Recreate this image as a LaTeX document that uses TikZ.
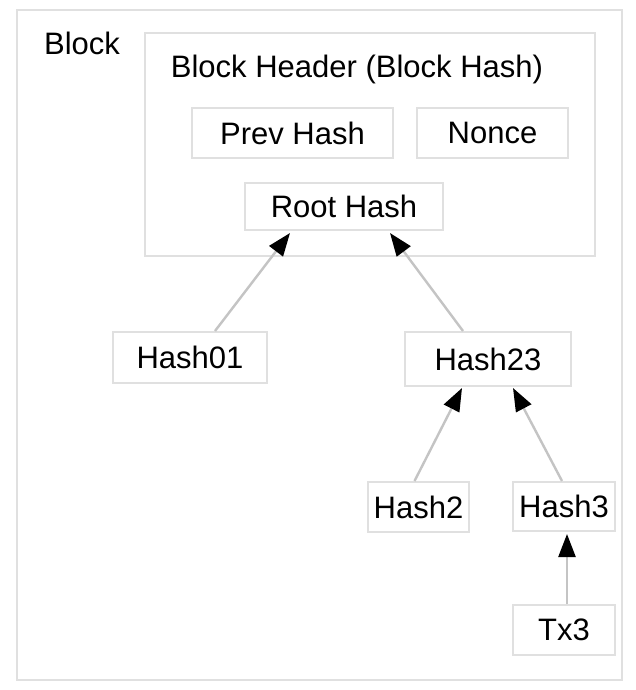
\documentclass[tikz,border=0pt]{standalone}
\usepackage{fontspec}
\setmainfont{Liberation Sans}
\usetikzlibrary{arrows.meta}
\definecolor{boxline}{HTML}{E0E0E0}
\definecolor{linkline}{HTML}{C4C4C4}
\begin{document}
\begin{tikzpicture}[x=1pt,y=-1pt,
  font=\fontsize{31}{36}\selectfont,
  hbox/.style={draw=boxline,line width=2pt,inner sep=0pt,anchor=center},
  lbl/.style={inner sep=0pt,anchor=center},
  link/.style={draw=linkline,line width=2.4pt,
    -{Triangle[length=23pt,width=17pt,color=black]}}]
  \useasboundingbox[fill=white] (0,0) rectangle (635,690);

  % outer block and header frames
  \node[hbox,minimum width=605pt,minimum height=670pt] (block) at (319.5,345) {};
  \node[hbox,minimum width=450pt,minimum height=223pt] (header) at (370,144.5) {};
  \node[lbl] (blocklbl) at (82,43) {Block};
  \node[lbl] (headerlbl) at (357,69) {Block Header (Block Hash)};

  % header fields
  \node[hbox,minimum width=201pt,minimum height=50pt] (prev) at (292.5,133) {Prev Hash};
  \node[hbox,minimum width=151pt,minimum height=50pt] (nonce) at (492.5,133) {Nonce};
  \node[hbox,minimum width=198pt,minimum height=47pt] (root) at (344,206.5) {Root Hash};

  % merkle branch
  \node[hbox,minimum width=154pt,minimum height=51pt] (h01) at (190,357.5) {Hash01};
  \node[hbox,minimum width=166pt,minimum height=54pt] (h23) at (488,359) {Hash23};
  \node[hbox,minimum width=101pt,minimum height=50pt] (h2) at (418.5,507) {Hash2};
  \node[hbox,minimum width=102pt,minimum height=49pt] (h3) at (564,506.5) {Hash3};
  \node[hbox,minimum width=102pt,minimum height=50pt] (tx3) at (564,630) {Tx3};

  % links towards the root
  \draw[link] ([xshift=25pt]h01.north) -- ([xshift=-54pt,yshift=-2pt]root.south);
  \draw[link] ([xshift=-25pt]h23.north) -- ([xshift=46pt,yshift=-2pt]root.south);
  \draw[link] ([xshift=-4pt]h2.north) -- ([xshift=-26pt,yshift=-1pt]h23.south);
  \draw[link] ([xshift=-2pt]h3.north) -- ([xshift=25pt,yshift=-1pt]h23.south);
  \draw[link] ([xshift=3pt]tx3.north) -- ([xshift=3pt,yshift=-2pt]h3.south);
\end{tikzpicture}
\end{document}
